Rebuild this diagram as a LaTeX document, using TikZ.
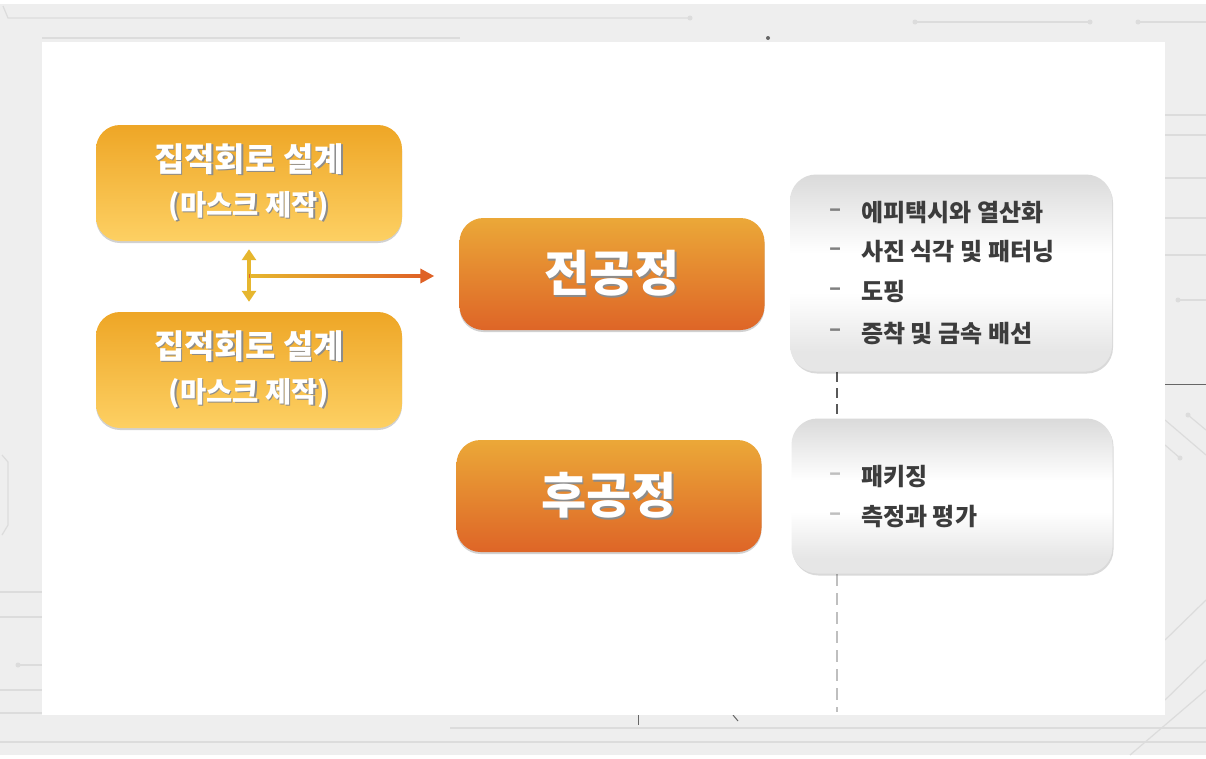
\documentclass[tikz,border=0pt]{standalone}
\usepackage{fontspec}
\setmainfont{Noto Sans CJK KR}
\usetikzlibrary{arrows.meta,shadows,calc}
\definecolor{bggray}{HTML}{EEEEEE}
\definecolor{circ}{HTML}{DCDCDC}
\definecolor{atop}{HTML}{EEA626}
\definecolor{abot}{HTML}{FDD063}
\definecolor{btop}{HTML}{EBA838}
\definecolor{bbot}{HTML}{DE6527}
\definecolor{gtop}{HTML}{DADADA}
\definecolor{gbot}{HTML}{E6E6E6}
\definecolor{itemtxt}{HTML}{3C3C3C}
\definecolor{gold}{HTML}{E6B62E}
\definecolor{arrred}{HTML}{DF6226}
\pgfdeclareverticalshading{grayshade}{100bp}{color(0bp)=(gbot); color(30bp)=(gbot); color(45bp)=(white); color(55bp)=(white); color(75bp)=(gtop); color(100bp)=(gtop)}
\newcommand\sh[1]{\leavevmode\rlap{\kern1.5pt\raisebox{-1.5pt}{\textcolor{black!45}{#1}}}#1}
\tikzset{
  abox/.style={rounded corners=24pt, minimum width=306pt, minimum height=116pt,
    top color=atop, bottom color=abot, draw=none, text=white, align=center,
    font=\bfseries\fontsize{33}{40}\selectfont,
    drop shadow={shadow xshift=0pt, shadow yshift=-2pt, opacity=0.18, fill=black}},
  bbox/.style={rounded corners=24pt, minimum width=305pt, minimum height=112pt,
    top color=btop, bottom color=bbot, draw=none, text=white,
    font=\bfseries\fontsize{49}{54}\selectfont,
    drop shadow={shadow xshift=0pt, shadow yshift=-2pt, opacity=0.18, fill=black}},
  gbox/.style={rounded corners=26pt, shading=grayshade, draw=none,
    drop shadow={shadow xshift=1pt, shadow yshift=-2pt, opacity=0.15, fill=black}},
  item/.style={anchor=west, text=itemtxt, font=\bfseries\fontsize{24}{28}\selectfont, inner sep=0pt},
  dashmark/.style={anchor=center, text=#1, font=\bfseries\fontsize{22}{24}\selectfont, inner sep=0pt},
  circuit/.style={draw=circ, line width=1.2pt},
  cdot/.style={fill=circ, draw=none},
}
\begin{document}
\begin{tikzpicture}[x=1pt,y=-1pt]
\useasboundingbox (0,0) rectangle (1206,758);
% background
\fill[bggray] (0,0) rectangle (1206,758);
\fill[white] (0,0) rectangle (1206,4);
\fill[white] (0,755) rectangle (1206,758);
% circuit decoration
\draw[circuit] (3,6) -- (8,18) -- (690,18);
\fill[cdot] (690,18) circle (2.5);
\draw[circuit] (915,22) -- (1090,22);
\fill[cdot] (915,22) circle (2.5); \fill[cdot] (1090,22) circle (2.5);
\draw[circuit] (1138,22) -- (1206,22); \fill[cdot] (1138,22) circle (2.5);
\draw[circuit] (42,38) -- (460,38);
\draw[circuit] (1165,115) -- (1206,115);
\draw[circuit] (1165,135) -- (1206,135);
\draw[circuit] (1165,178) -- (1206,178);
\draw[circuit] (1165,218) -- (1206,218);
\draw[circuit] (1165,255) -- (1206,255);
\draw[circuit] (1178,300) -- (1206,300); \fill[cdot] (1178,300) circle (2.5);
\draw[draw=black!60, line width=1pt] (1165,384) -- (1206,384);
\draw[circuit] (1165,420) -- (1206,455);
\draw[circuit] (1188,415) -- (1206,430); \fill[cdot] (1188,415) circle (2.5);
\draw[circuit] (1165,445) -- (1180,458); \fill[cdot] (1180,458) circle (2.5);
\draw[circuit] (1165,640) -- (1206,600);
\draw[circuit] (1165,700) -- (1206,660);
\draw[circuit] (1130,755) -- (1206,690);
\draw[circuit] (2,455) -- (8,462) -- (8,525) -- (2,535);
\draw[circuit] (0,592) -- (42,592);
\draw[circuit] (0,617) -- (42,617);
\draw[circuit] (18,665) -- (42,665); \fill[cdot] (18,665) circle (2.5);
\draw[circuit] (0,690) -- (42,690);
\draw[circuit] (0,713) -- (42,713);
\draw[circuit] (0,742) -- (1206,742);
\draw[circuit] (450,728) -- (1206,728);
\fill[black!60] (768,38) circle (2);
\draw[black!60, line width=1pt] (638,715) -- (638,725);
\draw[black!60, line width=1pt] (733,715) -- (738,721);
% white panel
\fill[white] (42,42) rectangle (1165,715);
% dashed guide
\coordinate (d0) at (837,372);
\coordinate (d1) at (837,419);
\coordinate (d2) at (837,574);
\coordinate (d3) at (837,712);
\draw[black!65, line width=2pt, dash pattern=on 10pt off 6pt] (d0) -- (d1);
\draw[black!25, line width=2pt, dash pattern=on 12pt off 7pt] (d2) -- (d3);
% orange boxes
\node[abox] (a1) at (249,183) {\sh{집적회로 설계}\\[4pt]{\fontsize{28.5}{34}\selectfont\sh{(마스크 제작)}}};
\node[abox] (a2) at (249,370) {\sh{집적회로 설계}\\[4pt]{\fontsize{28.5}{34}\selectfont\sh{(마스크 제작)}}};
\node[bbox] (b1) at (612,274) {\sh{전공정}};
\node[bbox] (b2) at (609,496) {\sh{후공정}};
% gray boxes
\node[gbox, minimum width=322pt, minimum height=197pt] (c1) at (951,273) {};
\node[gbox, minimum width=321pt, minimum height=155pt] (c2) at (952,496) {};
% items
\foreach \y/\t in {213/에피택시와 열산화, 252/사진 식각 및 패터닝, 292/도핑, 333/증착 및 금속 배선}{
  \node[dashmark=black!50] at (836,\y) {–};
  \node[item] at (861,\y) {\t};
}
\foreach \y/\t in {477/패키징, 517/측정과 평가}{
  \node[dashmark=black!25] at (836,\y) {–};
  \node[item] at (861,\y) {\t};
}
% arrows
\coordinate (j) at (249,276);
\draw[gold, line width=4pt, {Triangle[width=14pt,length=11pt]}-{Triangle[width=14pt,length=11pt]}, shorten <=8pt, shorten >=10pt] (a1.south) -- (a2.north);
\coordinate (e) at ($(b1.west)+(-25,2)$);
\draw[arrred, line width=3.5pt, -{Triangle[width=14pt,length=14pt]}] (j) -- (e);
\shade[left color=gold, right color=arrred] (250,274.25) rectangle (422,277.75);
\end{tikzpicture}
\end{document}
